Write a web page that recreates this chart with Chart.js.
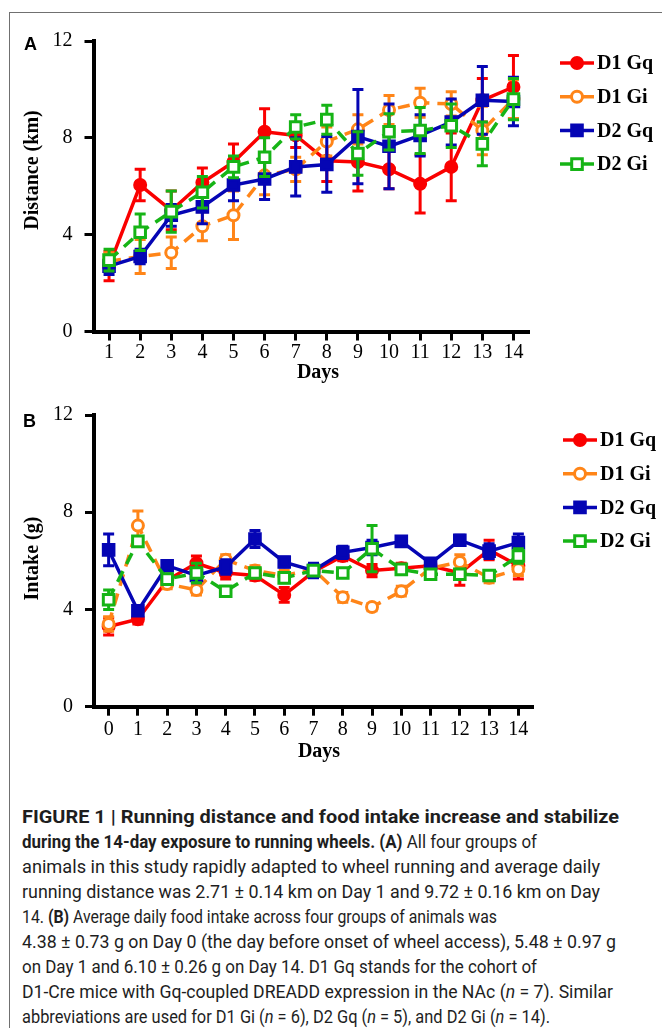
<!DOCTYPE html>
<html>
<head>
<meta charset="utf-8">
<script src="https://cdn.jsdelivr.net/npm/chart.js@4.4.1/dist/chart.umd.min.js"></script>
<style>
  html, body { margin: 0; padding: 0; background: #fff; }
  body { width: 662px; height: 1028px; position: relative; overflow: hidden; }
  .frame { position: absolute; left: 9px; top: 12px; width: 700px; height: 1100px;
           border-left: 1px solid #707070; border-top: 1px solid #707070; }
  canvas { position: absolute; left: 0; }
  #chartA { top: 0; }
  #chartB { top: 390px; }
  .panel { position: absolute; font: bold 18px "Liberation Sans", Arial, sans-serif; color: #000; }
  .caption { position: absolute; left: 22px; top: 804px; font: 18px Roboto, sans-serif;
             line-height: 25px; color: #1e1e1e; white-space: nowrap; }
  .caption div { width: max-content; transform-origin: 0 50%; }
  .caption b { font-weight: bold; }
</style>
</head>
<body>
<div class="frame"></div>
<canvas id="chartA" width="662" height="390"></canvas>
<canvas id="chartB" width="662" height="390"></canvas>
<div class="panel" style="left:24px; top:34px;">A</div>
<div class="panel" style="left:23px; top:411px;">B</div>
<div class="caption" id="caption">
  <div><b>FIGURE 1 | Running distance and food intake increase and stabilize</b></div>
  <div><b>during the 14-day exposure to running wheels. (A)</b> All four groups of</div>
  <div>animals in this study rapidly adapted to wheel running and average daily</div>
  <div>running distance was 2.71 ± 0.14 km on Day 1 and 9.72 ± 0.16 km on Day</div>
  <div>14. <b>(B)</b> Average daily food intake across four groups of animals was</div>
  <div>4.38 ± 0.73 g on Day 0 (the day before onset of wheel access), 5.48 ± 0.97 g</div>
  <div>on Day 1 and 6.10 ± 0.26 g on Day 14. D1 Gq stands for the cohort of</div>
  <div>D1-Cre mice with Gq-coupled DREADD expression in the NAc (<i>n</i> = 7). Similar</div>
  <div>abbreviations are used for D1 Gi (<i>n</i> = 6), D2 Gq (<i>n</i> = 5), and D2 Gi (<i>n</i> = 14).</div>
</div>

<script>
// ---- data: panel A (running distance, km) ----
const daysA = ["1", "2", "3", "4", "5", "6", "7", "8", "9", "10", "11", "12", "13", "14"];
const distD1Gq = [2.7, 6.05, 5.0, 6.15, 7.0, 8.25, 8.1, 7.05, 7.0, 6.7, 6.1, 6.8, 9.55, 10.1];
const distD1GqErr = [0.6, 0.65, 0.8, 0.6, 0.75, 0.95, 0.5, 0.85, 1.2, 0.8, 1.2, 1.4, 0.9, 1.3];
const distD1Gi = [2.9, 3.1, 3.25, 4.35, 4.8, 6.45, 6.7, 7.85, 8.35, 9.15, 9.45, 9.4, 8.3, 9.6];
const distD1GiErr = [0.35, 0.7, 0.65, 0.6, 1.0, 0.8, 0.5, 0.6, 0.6, 0.6, 0.6, 0.5, 1.0, 0.8];
const distD2Gq = [2.7, 3.1, 4.8, 5.15, 6.05, 6.3, 6.8, 6.9, 8.05, 7.65, 8.1, 8.65, 9.55, 9.5];
const distD2GqErr = [0.35, 0.3, 0.45, 0.7, 0.65, 0.85, 1.2, 1.15, 1.95, 1.75, 0.85, 0.95, 1.4, 1.0];
const distD2Gi = [2.95, 4.1, 4.95, 5.75, 6.8, 7.2, 8.45, 8.75, 7.35, 8.25, 8.3, 8.5, 7.75, 9.6];
const distD2GiErr = [0.45, 0.75, 0.85, 0.65, 0.45, 0.8, 0.5, 0.6, 0.9, 0.75, 0.95, 0.9, 0.9, 0.85];

// ---- data: panel B (food intake, g) ----
const daysB = ["0", "1", "2", "3", "4", "5", "6", "7", "8", "9", "10", "11", "12", "13", "14"];
const intD1Gq = [3.3, 3.6, 5.2, 5.9, 5.5, 5.4, 4.6, 5.55, 6.2, 5.6, 5.7, 5.8, 5.5, 6.45, 5.8];
const intD1GqErr = [0.35, 0.2, 0.25, 0.3, 0.25, 0.2, 0.3, 0.2, 0.2, 0.25, 0.2, 0.2, 0.5, 0.4, 0.55];
const intD1Gi = [3.4, 7.45, 5.05, 4.8, 6.05, 5.6, 5.4, 5.65, 4.5, 4.1, 4.75, 5.7, 5.95, 5.3, 5.65];
const intD1GiErr = [0.3, 0.6, 0.2, 0.2, 0.2, 0.2, 0.2, 0.2, 0.2, 0.15, 0.2, 0.2, 0.3, 0.2, 0.25];
const intD2Gq = [6.45, 3.95, 5.8, 5.4, 5.75, 6.9, 5.95, 5.6, 6.35, 6.55, 6.8, 5.9, 6.85, 6.4, 6.75];
const intD2GqErr = [0.65, 0.15, 0.2, 0.3, 0.3, 0.35, 0.2, 0.3, 0.25, 0.3, 0.2, 0.2, 0.2, 0.3, 0.35];
const intD2Gi = [4.4, 6.8, 5.25, 5.5, 4.75, 5.5, 5.3, 5.6, 5.5, 6.5, 5.65, 5.45, 5.45, 5.4, 6.2];
const intD2GiErr = [0.4, 0.2, 0.2, 0.4, 0.15, 0.2, 0.2, 0.15, 0.15, 0.95, 0.2, 0.15, 0.2, 0.2, 0.3];

const yTicks = [0, 4, 8, 12];
const groupNames = ["D1 Gq", "D1 Gi", "D2 Gq", "D2 Gi"];

const RED = "#fa0000", ORANGE = "#ff8518", BLUE = "#0505b4", GREEN = "#16b416";
const SERIF = '"Liberation Serif", "Times New Roman", serif';

// error bars under each line, drawn from the y scale
const errorBars = {
  id: "errorBars",
  beforeDatasetDraw(chart, args) {
    const ds = chart.data.datasets[args.index];
    const y = chart.scales.y;
    const ctx = chart.ctx;
    ctx.save();
    ctx.strokeStyle = ds.borderColor;
    ctx.lineWidth = 3;
    ctx.setLineDash([]);
    args.meta.data.forEach((pt, i) => {
      const top = y.getPixelForValue(ds.data[i] + ds.errors[i]);
      const bot = y.getPixelForValue(ds.data[i] - ds.errors[i]);
      ctx.beginPath();
      ctx.moveTo(pt.x, top); ctx.lineTo(pt.x, bot);
      ctx.moveTo(pt.x - 5.5, top); ctx.lineTo(pt.x + 5.5, top);
      ctx.moveTo(pt.x - 5.5, bot); ctx.lineTo(pt.x + 5.5, bot);
      ctx.stroke();
    });
    ctx.restore();
  }
};

// legend on the right: line + marker + bold label
const sideLegend = {
  id: "sideLegend",
  afterDraw(chart, args, opts) {
    const ctx = chart.ctx;
    chart.data.datasets.forEach((ds, i) => {
      const y = opts.top + i * opts.step;
      const cx = opts.left + 17;
      ctx.save();
      ctx.strokeStyle = ds.borderColor;
      ctx.lineWidth = 3.5;
      ctx.beginPath();
      ctx.moveTo(opts.left, y); ctx.lineTo(opts.left + 34, y);
      ctx.stroke();
      ctx.fillStyle = ds.pointBackgroundColor;
      ctx.lineWidth = 3;
      ctx.beginPath();
      if (ds.pointStyle === "rect") {
        const s = ds.pointRadius * Math.SQRT1_2;
        ctx.rect(cx - s, y - s, 2 * s, 2 * s);
      } else {
        ctx.arc(cx, y, ds.pointRadius, 0, Math.PI * 2);
      }
      ctx.fill();
      ctx.stroke();
      ctx.fillStyle = "#000";
      ctx.font = "bold 20px " + SERIF;
      ctx.textBaseline = "middle";
      ctx.fillText(ds.label, opts.left + 37, y + 1);
      ctx.restore();
    });
  }
};

// axis titles placed like the figure
const axisTitles = {
  id: "axisTitles",
  afterDraw(chart, args, opts) {
    const ctx = chart.ctx;
    ctx.save();
    ctx.fillStyle = "#000";
    ctx.font = "bold 20px " + SERIF;
    ctx.textAlign = "center";
    ctx.textBaseline = "middle";
    ctx.fillText(opts.x.text, opts.x.cx, opts.x.cy);
    ctx.translate(opts.y.cx, opts.y.cy);
    ctx.rotate(-Math.PI / 2);
    ctx.fillText(opts.y.text, 0, 0);
    ctx.restore();
  }
};

function series(label, data, errors, color, style, open, dashed, order) {
  return {
    label: label,
    data: data,
    errors: errors,
    borderColor: color,
    borderWidth: 3.5,
    borderDash: dashed ? [12, 8] : [],
    pointStyle: style,
    pointRadius: style === "rect" ? 7.5 : 5.5,
    pointBorderWidth: 3,
    pointBackgroundColor: open ? "#fff" : color,
    pointBorderColor: color,
    fill: false,
    tension: 0,
    order: order
  };
}

function makeChart(id, labels, sets, box) {
  const tickFont = { family: SERIF, size: 20 };
  return new Chart(document.getElementById(id), {
    type: "line",
    data: { labels: labels, datasets: sets },
    options: {
      responsive: false,
      animation: false,
      layout: { padding: box.padding },
      plugins: {
        legend: { display: false },
        tooltip: { enabled: false },
        sideLegend: box.legend,
        axisTitles: box.titles
      },
      scales: {
        x: {
          type: "category",
          offset: true,
          grid: { display: true, drawOnChartArea: false, drawTicks: true, tickLength: 9, tickWidth: 3, color: "#000" },
          border: { display: true, width: 4, color: "#000" },
          ticks: { color: "#000", font: tickFont, padding: box.xPad, maxRotation: 0, autoSkip: false },
          afterFit(s) { s.height = 40; }
        },
        y: {
          min: 0,
          max: 12,
          afterBuildTicks(s) { s.ticks = yTicks.map(v => ({ value: v })); },
          grid: { display: true, drawOnChartArea: false, drawTicks: true, tickLength: 9, tickWidth: 3, color: "#000" },
          border: { display: true, width: 4, color: "#000" },
          ticks: { color: "#000", font: tickFont, padding: 12 },
          afterFit(s) { s.width = box.yWidth; }
        }
      }
    },
    plugins: [errorBars, sideLegend, axisTitles]
  });
}

// order: green on top, red at the bottom
makeChart("chartA", daysA, [
  series(groupNames[0], distD1Gq, distD1GqErr, RED, "circle", false, false, 4),
  series(groupNames[1], distD1Gi, distD1GiErr, ORANGE, "circle", true, true, 3),
  series(groupNames[2], distD2Gq, distD2GqErr, BLUE, "rect", false, false, 2),
  series(groupNames[3], distD2Gi, distD2GiErr, GREEN, "rect", true, true, 1)
], {
  padding: { left: 20, right: 133, top: 41, bottom: 18.5 },
  yWidth: 73.5,
  xPad: 0,
  legend: { left: 560, top: 63, step: 33.7 },
  titles: { x: { text: "Days", cx: 318, cy: 373 }, y: { text: "Distance (km)", cx: 33, cy: 170 } }
});

makeChart("chartB", daysB, [
  series(groupNames[0], intD1Gq, intD1GqErr, RED, "circle", false, false, 4),
  series(groupNames[1], intD1Gi, intD1GiErr, ORANGE, "circle", true, true, 3),
  series(groupNames[2], intD2Gq, intD2GqErr, BLUE, "rect", false, false, 2),
  series(groupNames[3], intD2Gi, intD2GiErr, GREEN, "rect", true, true, 1)
], {
  padding: { left: 20, right: 129, top: 25, bottom: 33.3 },
  yWidth: 74,
  xPad: 2,
  legend: { left: 563, top: 50, step: 33.7 },
  titles: { x: { text: "Days", cx: 319, cy: 362 }, y: { text: "Intake (g)", cx: 33, cy: 168.5 } }
});

// stretch each caption line to the width it has in the figure
const captionRight = [619, 537, 600, 600, 497, 616, 537, 613, 550];
function fitCaption() {
  const lines = document.querySelectorAll("#caption div");
  lines.forEach((el, i) => {
    el.style.transform = "none";
    const w = el.getBoundingClientRect().width;
    el.style.transform = "scaleX(" + ((captionRight[i] - 22) / w).toFixed(4) + ")";
  });
}
fitCaption();
if (document.fonts) document.fonts.ready.then(fitCaption);
</script>
</body>
</html>
